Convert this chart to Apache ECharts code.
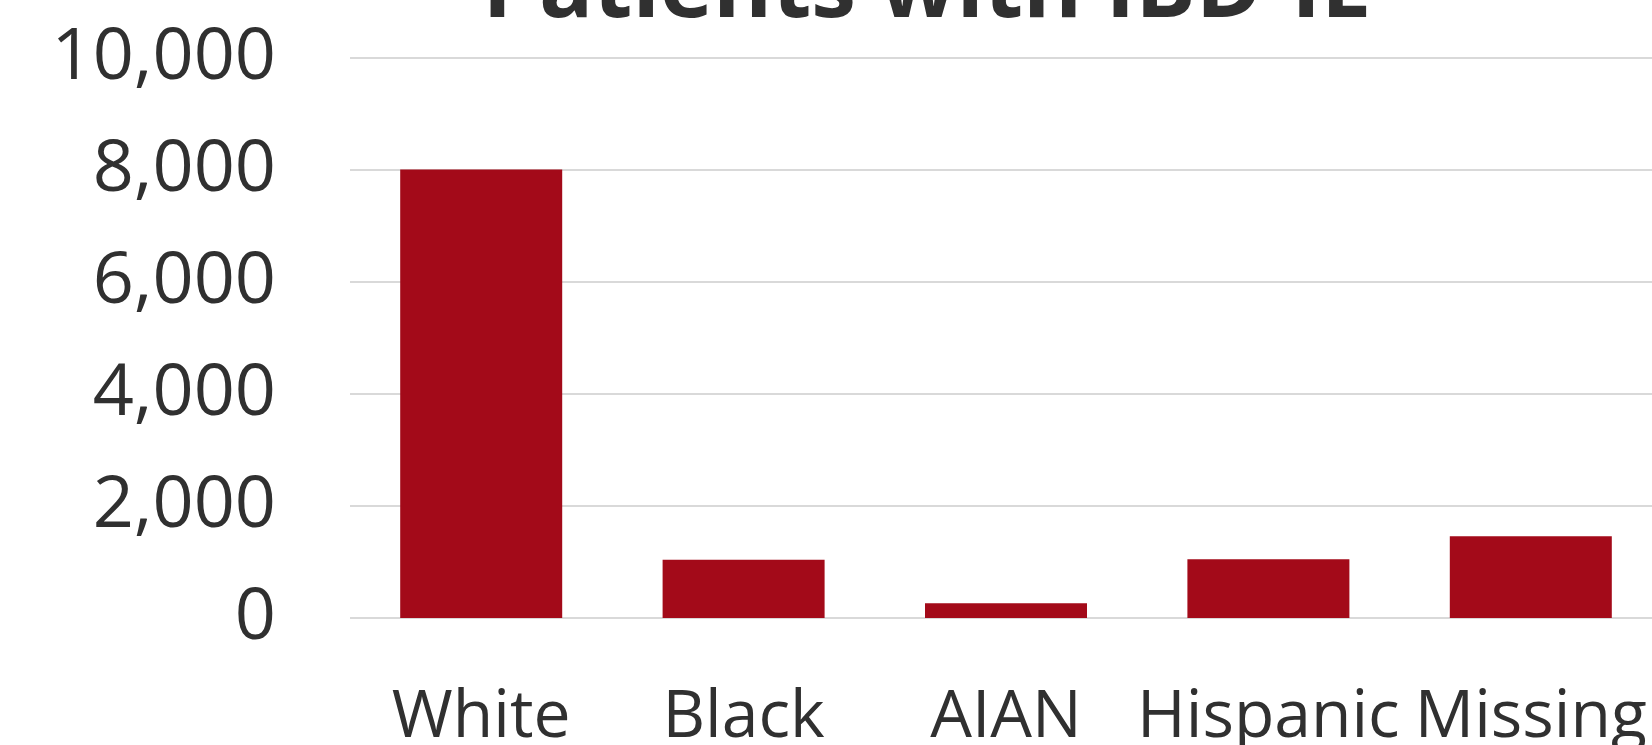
<!DOCTYPE html>
<html>
<head>
<meta charset="utf-8">
<script src="https://cdn.jsdelivr.net/npm/echarts@6/dist/echarts.min.js"></script>
<style>
  html, body { margin: 0; padding: 0; background: #fff; }
  #chart { width: 1652px; height: 745px; }
</style>
</head>
<body>
<div id="chart"></div>
<script>
// Patient counts by race / ethnicity group
const categories = ['White', 'Black', 'AIAN', 'Hispanic', 'Missing'];
const patients = [8010, 1040, 265, 1050, 1460];
const titleText = 'Patients with IBD-IE';

const FONT = '"Open Sans", "Noto Sans", sans-serif';
const TEXT = '#303030';

const chart = echarts.init(document.getElementById('chart'), null, { renderer: 'canvas' });
chart.setOption({
  animation: false,
  backgroundColor: '#ffffff',
  title: {
    text: titleText,
    left: 922,
    textAlign: 'center',
    top: -59,
    textStyle: { fontFamily: FONT, fontWeight: 'bold', fontSize: 90, color: TEXT }
  },
  grid: {
    left: 350, top: 58, width: 1312, bottom: 127,
    containLabel: false, outerBoundsMode: 'none'
  },
  xAxis: {
    type: 'category',
    data: categories,
    axisLine: { show: false },
    axisTick: { show: false },
    axisLabel: {
      fontFamily: FONT, fontSize: 66, color: TEXT, margin: 67, interval: 0
    }
  },
  yAxis: {
    type: 'value',
    min: 0,
    max: 10000,
    interval: 2000,
    axisLine: { show: false },
    axisTick: { show: false },
    splitLine: { lineStyle: { color: '#d9d9d9', width: 2 } },
    axisLabel: {
      fontFamily: FONT, fontSize: 72, color: TEXT, margin: 74,
      formatter: v => v.toLocaleString('en-US')
    }
  },
  series: [{
    type: 'bar',
    data: patients,
    barWidth: 162,
    itemStyle: { color: '#A30A19' }
  }]
});
</script>
</body>
</html>
